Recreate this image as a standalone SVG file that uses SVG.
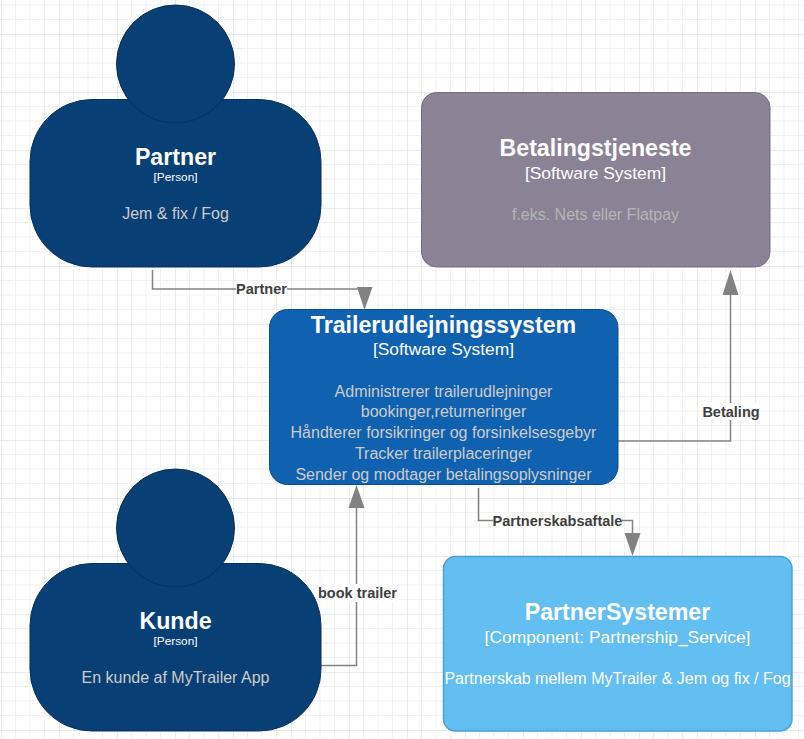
<svg xmlns="http://www.w3.org/2000/svg" width="804" height="739" viewBox="0 0 804 739">
<style>
text{font-family:"Liberation Sans",Arial,sans-serif;text-anchor:middle}
.t{font-weight:bold;font-size:23.2px;fill:#fff}
.s{font-size:17.4px;fill:#fff}
.p{font-size:11.8px;fill:#fff}
.d{font-size:16px;fill:#ccc}
.l{font-weight:bold;font-size:14.500px;fill:#404040}
.c{fill:none;stroke:#828282;stroke-width:1.5}
.a{fill:#828282;stroke:none}
.lb{fill:#fff}
.person{fill:#083f75;stroke:#06315c}
</style>
<defs>
<pattern id="grid" width="58" height="58" patternUnits="userSpaceOnUse" x="1" y="34">
<path d="M14.5 0V58M29 0V58M43.5 0V58M0 14.5H58M0 29H58M0 43.5H58" fill="none" stroke="#f1f1f1" stroke-width="1"/>
<path d="M0 0V58M0 0H58" fill="none" stroke="#e3e3e3" stroke-width="1.4"/>
</pattern>
</defs>
<rect width="804" height="739" fill="#fff"/>
<rect width="804" height="739" fill="url(#grid)"/>
<g id="connectors">
<path class="c" d="M152.500 270V289H364.500V290"/>
<polygon class="a" points="357,287 372.500,287 364.500,310"/>
<rect class="lb" x="236" y="281" width="51" height="16"/>
<text class="l" x="261.500" y="294">Partner</text>
<path class="c" d="M618 441H730.500V294"/>
<polygon class="a" points="730.500,270 722.500,295 738.500,295"/>
<rect class="lb" x="702" y="403" width="58" height="17"/>
<text class="l" x="731" y="417">Betaling</text>
<path class="c" d="M478.500 488V520.500H632.500V535"/>
<polygon class="a" points="624.500,533 640.500,533 632.500,556"/>
<rect class="lb" x="493" y="513" width="129" height="16"/>
<text class="l" x="557.500" y="526">Partnerskabsaftale</text>
<path class="c" d="M321 665.500H356.500V505"/>
<polygon class="a" points="356.500,485 348.500,508 364.500,508"/>
<rect class="lb" x="318" y="584" width="79" height="18"/>
<text class="l" x="357.500" y="598">book trailer</text>
</g>
<g id="partner">
<rect class="person" x="30" y="99.500" width="291" height="167.500" rx="62"/>
<circle class="person" cx="175.500" cy="64" r="59"/>
<text class="t" x="175.500" y="165">Partner</text>
<text class="p" x="175.500" y="181">[Person]</text>
<text class="d" x="175.500" y="219">Jem &amp; fix / Fog</text>
</g>
<g id="kunde">
<rect class="person" x="30" y="563.500" width="291" height="167.500" rx="62"/>
<circle class="person" cx="175.500" cy="528" r="59"/>
<text class="t" x="175.500" y="629">Kunde</text>
<text class="p" x="175.500" y="645">[Person]</text>
<text class="d" x="175.500" y="683">En kunde af MyTrailer App</text>
</g>
<g id="betalingstjeneste">
<rect x="421.500" y="92.500" width="348.500" height="174.500" rx="15" fill="#8b8296" stroke="#786d8a"/>
<text class="t" x="595.500" y="156">Betalingstjeneste</text>
<text class="s" x="595.500" y="179">[Software System]</text>
<text class="d" x="595.500" y="220" style="fill:#b5b5b5">f.eks. Nets eller Flatpay</text>
</g>
<g id="trailerudlejningssystem">
<rect x="269.500" y="309.500" width="348.500" height="175" rx="18" fill="#1061b0" stroke="#0d5091"/>
<text class="t" x="443.500" y="333">Trailerudlejningssystem</text>
<text class="s" x="443.500" y="355">[Software System]</text>
<text class="d" x="443.500" y="397">Administrerer trailerudlejninger</text>
<text class="d" x="443.500" y="417">bookinger,returneringer</text>
<text class="d" x="443.500" y="438">Håndterer forsikringer og forsinkelsesgebyr</text>
<text class="d" x="443.500" y="459">Tracker trailerplaceringer</text>
<text class="d" x="443.500" y="480">Sender og modtager betalingsoplysninger</text>
</g>
<g id="partnersystemer">
<rect x="443.500" y="556.500" width="348.500" height="174.500" rx="12" fill="#63bef2" stroke="#4a9ed6" stroke-width="1.400"/>
<text class="t" x="617.500" y="620">PartnerSystemer</text>
<text class="s" x="617.500" y="643">[Component: Partnership_Service]</text>
<text class="d" x="617.500" y="684" style="fill:#fff">Partnerskab mellem MyTrailer &amp; Jem og fix / Fog</text>
</g>
</svg>
